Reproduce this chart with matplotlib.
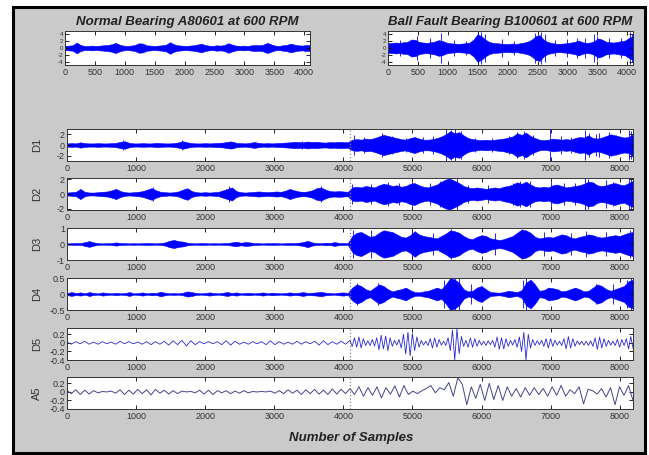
import numpy as np
import matplotlib
matplotlib.use('Agg')
import matplotlib.pyplot as plt
from matplotlib.patches import Rectangle

plt.rcParams['font.family'] = ['Liberation Sans', 'DejaVu Sans']
plt.rcParams['axes.unicode_minus'] = False

# ---- data (envelopes / extrema) ----
# raw signals, 64 bins of 64 samples (0..4096)
normal_env = [0.6, 0.7, 0.8, 1.6, 0.9, 0.6, 0.6, 0.7,
              0.6, 0.7, 0.8, 0.9, 1.1, 1.5, 1.0, 0.7,
              0.6, 0.7, 0.9, 1.4, 1.3, 0.8, 0.7, 0.6,
              0.7, 0.8, 1.0, 1.7, 1.1, 0.8, 0.7, 0.6,
              0.7, 0.8, 1.0, 1.3, 0.9, 0.7, 0.6, 0.8,
              0.7, 0.9, 1.4, 1.0, 0.7, 0.6, 0.7, 0.6,
              0.8, 0.9, 0.8, 1.0, 1.5, 1.1, 0.7, 0.6,
              0.8, 0.9, 1.3, 1.0, 0.8, 0.7, 0.9, 0.8]
fault_env = [1.4, 1.5, 1.6, 1.5, 1.7, 1.8, 2.5, 2.4,
             1.8, 1.6, 1.5, 1.7, 1.9, 2.3, 2.1, 1.6,
             1.4, 1.3, 1.2, 1.3, 1.4, 1.6, 2.5, 4.0,
             3.5, 2.5, 1.8, 1.5, 1.4, 1.3, 1.2, 1.2,
             1.3, 1.2, 1.4, 1.6, 1.9, 2.5, 3.5, 3.8,
             2.5, 1.8, 1.5, 1.3, 1.2, 1.3, 1.4, 1.6,
             1.8, 2.2, 1.7, 1.5, 1.6, 2.0, 2.8, 2.5,
             1.9, 1.7, 1.6, 1.8, 2.0, 2.2, 3.0, 3.5]
fault_spike_pos = [200, 480, 700, 880, 1100, 1300, 1500, 1560, 1620, 1900, 2100, 2460,
                   2560, 2620, 2800, 3000, 3160, 3300, 3450, 3500, 3700, 3900, 4040, 4080]
fault_spike_amp = [2.5, 3.5, 2.8, 4.5, 2.5, 2.2, 4.8, 4.8, 4.2, 2.6, 2.2, 4.5,
                   4.6, 4.0, 2.4, 2.6, 3.0, 2.8, 4.2, 3.6, 2.9, 3.0, 4.7, 4.2]

# details: first 64 bins = normal part, last 64 bins = fault part (64 samples per bin)
d1_norm = [0.3, 0.35, 0.3, 0.5, 0.35, 0.3, 0.3, 0.35,
           0.3, 0.3, 0.35, 0.4, 0.6, 0.7, 0.4, 0.3,
           0.3, 0.35, 0.3, 0.3, 0.4, 0.35, 0.3, 0.3,
           0.35, 0.5, 0.7, 0.5, 0.35, 0.3, 0.3, 0.35,
           0.3, 0.35, 0.4, 0.45, 0.6, 0.65, 0.4, 0.35,
           0.3, 0.4, 0.55, 0.4, 0.3, 0.35, 0.3, 0.35,
           0.4, 0.45, 0.5, 0.6, 0.55, 0.5, 0.65, 0.55,
           0.6, 0.5, 0.45, 0.55, 0.5, 0.6, 0.55, 0.5]
d1_fault = [1.0, 1.1, 1.0, 1.2, 1.1, 1.3, 1.6, 1.9,
            1.7, 1.5, 1.3, 1.1, 1.0, 1.3, 1.5, 1.2,
            1.0, 1.0, 1.1, 1.3, 1.6, 2.0, 2.6, 2.2,
            2.4, 1.8, 1.3, 1.1, 1.0, 0.9, 1.0, 0.9,
            1.0, 1.1, 1.2, 1.4, 1.6, 2.2, 1.9, 2.3,
            1.7, 1.3, 1.0, 0.9, 1.0, 1.2, 1.1, 1.0,
            1.1, 1.0, 1.3, 1.5, 1.4, 1.8, 1.3, 1.2,
            1.4, 1.7, 2.0, 1.8, 1.6, 1.4, 1.5, 2.0]
d1_spike_pos = [810, 1660, 2360, 3400, 4150, 4300, 4560, 4700, 4900, 5150, 5300, 5480,
                5560, 5620, 5700, 5900, 6150, 6400, 6520, 6620, 6750, 6990, 7150, 7300,
                7500, 7560, 7650, 7700, 7850, 7950, 8130, 8170]
d1_spike_amp = [0.9, 0.9, 0.8, 0.8, 1.8, 1.5, 2.3, 1.6, 1.4, 1.5, 1.7, 3.0,
                2.9, 3.0, 2.6, 1.4, 1.3, 1.6, 2.4, 2.6, 1.8, 3.0, 1.6, 1.5,
                2.8, 2.3, 2.0, 2.2, 2.4, 1.9, 2.9, 2.7]

d2_norm = [0.2, 0.25, 0.3, 0.7, 0.3, 0.2, 0.2, 0.25,
           0.3, 0.35, 0.5, 0.7, 0.4, 0.25, 0.2, 0.25,
           0.3, 0.4, 0.6, 0.8, 0.5, 0.3, 0.25, 0.2,
           0.25, 0.35, 0.6, 0.8, 0.4, 0.25, 0.2, 0.25,
           0.2, 0.25, 0.3, 0.5, 0.7, 0.9, 0.4, 0.25,
           0.2, 0.25, 0.3, 0.35, 0.3, 0.25, 0.3, 0.35,
           0.3, 0.45, 0.7, 0.5, 0.35, 0.3, 0.35, 0.5,
           0.8, 0.9, 0.6, 0.4, 0.35, 0.4, 0.35, 0.3]
d2_fault = [0.9, 1.0, 0.9, 1.1, 1.0, 0.9, 1.2, 1.4,
            1.3, 1.1, 1.2, 1.0, 1.1, 1.4, 1.5, 1.2,
            1.0, 0.9, 1.1, 1.3, 1.7, 2.0, 2.1, 1.8,
            1.5, 1.1, 0.9, 0.8, 0.9, 0.8, 0.7, 0.8,
            0.9, 0.8, 1.0, 1.1, 1.3, 1.6, 1.4, 1.7,
            1.3, 1.0, 0.9, 1.0, 0.9, 1.2, 1.3, 1.1,
            0.9, 1.0, 1.1, 1.2, 1.4, 1.7, 1.6, 1.2,
            1.1, 1.2, 1.4, 1.5, 1.3, 1.2, 1.5, 1.8]
d2_spike_pos = [1250, 2350, 3680, 4130, 4400, 4650, 4800, 5000, 5250, 5400, 5520, 5640,
                5800, 6100, 6450, 6560, 6700, 7000, 7200, 7350, 7500, 7540, 7800, 7900,
                8130, 8170]
d2_spike_amp = [0.9, 1.1, 1.1, 1.4, 1.4, 1.6, 1.5, 1.6, 1.5, 1.8, 2.2, 2.2,
                1.3, 1.2, 1.5, 1.8, 1.8, 1.6, 1.5, 1.5, 2.2, 2.0, 1.9, 1.6,
                2.2, 2.1]

d3_norm = [0.04, 0.05, 0.06, 0.05, 0.12, 0.18, 0.1, 0.05,
           0.04, 0.05, 0.06, 0.1, 0.06, 0.05, 0.04, 0.05,
           0.04, 0.05, 0.06, 0.05, 0.04, 0.06, 0.1, 0.2,
           0.25, 0.18, 0.15, 0.08, 0.05, 0.04, 0.06, 0.05,
           0.04, 0.05, 0.04, 0.05, 0.06, 0.1, 0.14, 0.08,
           0.12, 0.1, 0.06, 0.05, 0.04, 0.05, 0.06, 0.05,
           0.04, 0.05, 0.06, 0.05, 0.08, 0.12, 0.2, 0.1,
           0.06, 0.05, 0.08, 0.06, 0.12, 0.07, 0.06, 0.05]
d3_fault = [0.5, 0.7, 0.75, 0.6, 0.45, 0.5, 0.7, 0.85,
            0.8, 0.75, 0.6, 0.45, 0.4, 0.55, 0.8, 0.6,
            0.5, 0.45, 0.4, 0.35, 0.5, 0.65, 0.85, 0.8,
            0.7, 0.5, 0.35, 0.3, 0.45, 0.55, 0.5, 0.35,
            0.3, 0.25, 0.3, 0.4, 0.5, 0.7, 0.9, 0.85,
            0.7, 0.45, 0.35, 0.4, 0.45, 0.4, 0.5, 0.6,
            0.55, 0.4, 0.35, 0.45, 0.5, 0.6, 0.55, 0.45,
            0.4, 0.45, 0.5, 0.55, 0.5, 0.6, 0.7, 0.75]
d3_spike_pos = [4140, 4400, 4600, 5000, 5300, 5560, 6200, 6590, 6900, 7300, 7510, 7800, 8150]
d3_spike_amp = [0.85, 0.9, 0.85, 0.8, 0.7, 0.95, 0.7, 0.95, 0.75, 0.7, 0.8, 0.75, 0.9]

d4_norm = [0.03, 0.06, 0.03, 0.05, 0.02, 0.06, 0.03, 0.02,
           0.05, 0.03, 0.02, 0.04, 0.02, 0.03, 0.06, 0.02,
           0.03, 0.05, 0.02, 0.04, 0.03, 0.07, 0.04, 0.02,
           0.03, 0.02, 0.04, 0.08, 0.06, 0.03, 0.02, 0.03,
           0.05, 0.03, 0.02, 0.04, 0.06, 0.03, 0.05, 0.02,
           0.03, 0.04, 0.02, 0.03, 0.05, 0.02, 0.04, 0.03,
           0.02, 0.03, 0.05, 0.03, 0.04, 0.06, 0.03, 0.04,
           0.05, 0.07, 0.04, 0.03, 0.02, 0.04, 0.05, 0.03]
d4_fault = [0.2, 0.3, 0.25, 0.15, 0.1, 0.2, 0.3, 0.25,
            0.15, 0.08, 0.12, 0.15, 0.2, 0.12, 0.06, 0.05,
            0.08, 0.1, 0.15, 0.2, 0.15, 0.3, 0.5, 0.45,
            0.35, 0.15, 0.08, 0.1, 0.2, 0.25, 0.15, 0.06,
            0.05, 0.04, 0.06, 0.1, 0.08, 0.06, 0.12, 0.35,
            0.45, 0.3, 0.1, 0.12, 0.2, 0.18, 0.15, 0.08,
            0.1, 0.15, 0.2, 0.15, 0.08, 0.1, 0.2, 0.3,
            0.25, 0.15, 0.1, 0.15, 0.2, 0.25, 0.4, 0.45]
d4_spike_pos = [4200, 4500, 5450, 5620, 5680, 5850, 6600, 6650, 7650, 7900, 8110, 8160]
d4_spike_amp = [0.35, 0.35, 0.45, 0.5, 0.5, 0.3, 0.45, 0.5, 0.3, 0.3, 0.45, 0.5]

# D5 and A5: successive extrema of the waveform
d5_norm = [0.02, -0.03, 0.03, -0.02, 0.04, -0.03, 0.02, -0.03,
           0.03, -0.02, 0.02, -0.03, 0.04, -0.02, 0.03, -0.02,
           0.02, -0.03, 0.03, -0.04, 0.03, -0.03, 0.04, -0.05,
           0.05, -0.04, 0.06, -0.07, 0.05, -0.04, 0.03, -0.02,
           0.03, -0.02, 0.03, -0.04, 0.05, -0.05, 0.04, -0.03,
           0.02, -0.03, 0.03, -0.02, 0.03, -0.04, 0.05, -0.04,
           0.03, -0.03, 0.02, -0.03, 0.04, -0.03, 0.03, -0.02,
           0.04, -0.05, 0.05, -0.04, 0.03, -0.03, 0.04, -0.03]
d5_fault = [0.06, -0.08, 0.12, -0.1, 0.14, -0.12, 0.1, -0.06,
            0.05, -0.06, 0.08, -0.07, 0.12, -0.16, 0.18, -0.14,
            0.16, -0.18, 0.12, -0.08, 0.06, -0.05, 0.08, -0.12,
            0.2, -0.26, 0.25, -0.3, 0.22, -0.18, 0.14, -0.1,
            0.06, -0.05, 0.04, -0.06, 0.1, -0.12, 0.12, -0.1,
            0.08, -0.05, 0.04, -0.06, 0.12, -0.18, 0.3, -0.4,
            0.33, -0.25, 0.15, -0.08, 0.06, -0.1, 0.12, -0.1,
            0.1, -0.08, 0.06, -0.05, 0.04, -0.06, 0.05, -0.04,
            0.06, -0.1, 0.14, -0.15, 0.12, -0.14, 0.1, -0.08,
            0.06, -0.05, 0.08, -0.1, 0.14, -0.2, 0.25, -0.4,
            0.2, -0.12, 0.08, -0.06, 0.05, -0.04, 0.06, -0.08,
            0.1, -0.12, 0.1, -0.08, 0.06, -0.05, 0.04, -0.06,
            0.1, -0.14, 0.15, -0.12, 0.1, -0.08, 0.05, -0.04,
            0.04, -0.05, 0.04, -0.06, 0.05, -0.08, 0.12, -0.15,
            0.14, -0.12, 0.1, -0.08, 0.06, -0.05, 0.04, -0.06,
            0.08, -0.1, 0.08, -0.06, 0.1, -0.14, 0.15, -0.12]

a5_norm = [0.03, -0.04, 0.05, -0.06, 0.04, -0.05, 0.03, -0.02,
           0.01, 0.0, 0.02, -0.03, 0.05, -0.06, 0.04, -0.05,
           0.06, -0.04, 0.05, -0.07, 0.06, -0.03, 0.04, -0.05,
           0.03, -0.04, 0.02, 0.0, 0.01, -0.02, 0.04, -0.05,
           0.04, -0.06, 0.03, -0.02, 0.03, -0.04, 0.02, -0.03,
           0.03, -0.02, 0.01, 0.0, 0.01, 0.0, 0.02, -0.03,
           0.03, -0.04, 0.05, -0.03, 0.04, -0.06, 0.05, -0.04,
           0.06, -0.05, 0.04, -0.06, 0.07, -0.05, 0.06, -0.04]
a5_fault = [0.08, -0.06, 0.12, -0.1, 0.1, -0.08, 0.12, -0.14,
            0.1, -0.05, 0.14, -0.12, 0.15, -0.06, 0.02, -0.04,
            0.03, 0.08, 0.15, -0.02, 0.1, 0.05, 0.22, -0.1,
            0.33, 0.18, -0.3, 0.12, -0.15, 0.18, -0.2, 0.2,
            -0.18, 0.15, -0.2, 0.12, -0.1, 0.08, -0.12, 0.1,
            -0.08, 0.1, -0.06, 0.08, -0.1, 0.12, -0.08, 0.15,
            -0.1, 0.05, -0.04, 0.12, -0.28, 0.06, 0.03, -0.05,
            0.08, -0.12, 0.1, -0.3, 0.12, -0.08, 0.15, -0.2]

row_names = ['D1', 'D2', 'D3', 'D4', 'D5', 'A5']

# ---- figure ----
W, H = 649, 455
fig = plt.figure(figsize=(W / 100, H / 100), dpi=100, facecolor='white')
fig.patches.append(Rectangle((13 / W, 1 - 453 / H), (645 - 13) / W, (453 - 7) / H,
                             transform=fig.transFigure, facecolor='#cacaca',
                             edgecolor='black', lw=2.2, zorder=-10))


def axes_px(l, t, r, b):
    return fig.add_axes([l / W, 1 - b / H, (r - l) / W, (b - t) / H])


def style(ax, xmax, xticks, ylim, yticks, ylabels, ysize=6.5):
    ax.set_xlim(0, xmax)
    ax.set_ylim(*ylim)
    ax.set_xticks(xticks)
    ax.set_xticklabels([str(t) for t in xticks])
    ax.set_yticks(yticks)
    ax.set_yticklabels(ylabels, fontsize=ysize)
    ax.tick_params(direction='in', length=3, width=0.6, top=True, right=True,
                   labelsize=6.5, labelcolor='#333333', pad=2)
    ax.tick_params(axis='y', labelsize=ysize, pad=1.5)
    for s in ax.spines.values():
        s.set_linewidth(0.7)
        s.set_color('#333333')


def draw_env(ax, env, xmax, spikes_pos=None, spikes_amp=None, color='#0000ff'):
    x = np.linspace(0, xmax, len(env))
    e = np.array(env)
    ax.fill_between(x, -e, e, color=color, lw=0.4, edgecolor=color)
    if spikes_pos:
        ax.vlines(spikes_pos, -np.array(spikes_amp), np.array(spikes_amp),
                  color=color, lw=0.6)


def halves(norm, fault):
    x = np.concatenate([np.linspace(0, 4096, len(norm), endpoint=False),
                        np.linspace(4096, 8192, len(fault))])
    return x, np.array(norm + fault)


# top panels
top_ticks = [0, 500, 1000, 1500, 2000, 2500, 3000, 3500, 4000]
ax = axes_px(65, 31, 310, 65)
draw_env(ax, normal_env, 4096)
style(ax, 4096, top_ticks, (-5, 5), [-4, -2, 0, 2, 4], ['-4', '-2', '0', '2', '4'], ysize=4.5)
ax.set_title('Normal Bearing A80601 at 600 RPM', fontsize=9.5, fontweight='bold',
             fontstyle='italic', color='#222222', pad=4)

ax = axes_px(388, 31, 633, 65)
draw_env(ax, fault_env, 4096, fault_spike_pos, fault_spike_amp)
style(ax, 4096, top_ticks, (-5, 5), [-4, -2, 0, 2, 4], ['-4', '-2', '0', '2', '4'], ysize=4.5)
ax.set_title('Ball Fault Bearing B100601 at 600 RPM', fontsize=9.5, fontweight='bold',
             fontstyle='italic', color='#222222', pad=4)

# decomposition rows
low_ticks = [0, 1000, 2000, 3000, 4000, 5000, 6000, 7000, 8000]
tops = [129, 178, 228, 278, 328, 377]
env_rows = [(d1_norm + d1_fault, d1_spike_pos, d1_spike_amp, (-3, 3), [-2, 0, 2], ['-2', '0', '2']),
            (d2_norm + d2_fault, d2_spike_pos, d2_spike_amp, (-2.2, 2.2), [-2, 0, 2], ['-2', '0', '2']),
            (d3_norm + d3_fault, d3_spike_pos, d3_spike_amp, (-1, 1), [-1, 0, 1], ['-1', '0', '1']),
            (d4_norm + d4_fault, d4_spike_pos, d4_spike_amp, (-0.5, 0.5), [-0.5, 0, 0.5], ['-0.5', '0', '0.5'])]
small_ticks = [-0.4, -0.2, 0, 0.2]
small_labels = ['-0.4', '-0.2', '0', '0.2']

for i, name in enumerate(row_names):
    ax = axes_px(67, tops[i], 633, tops[i] + 32)
    if i < 4:
        env, sp, sa, ylim, yt, yl = env_rows[i]
        draw_env(ax, env, 8192, sp, sa)
        style(ax, 8192, low_ticks, ylim, yt, yl)
    else:
        if name == 'D5':
            x, y = halves(d5_norm, d5_fault)
            ax.plot(x, y, color='#2a2ad0', lw=0.6)
        else:
            x, y = halves(a5_norm, a5_fault)
            ax.plot(x, y, color='#44448c', lw=0.7)
        style(ax, 8192, low_ticks, (-0.4, 0.35), small_ticks, small_labels)
    ax.axvline(4096, color='#888888', ls=':', lw=0.9)
    fig.text(37 / W, 1 - (tops[i] + 16) / H, name, rotation=90, ha='center', va='center',
             fontsize=8, color='#333333')

fig.text(351 / W, 1 - 438 / H, 'Number of Samples', ha='center', va='center',
         fontsize=9.5, fontweight='bold', fontstyle='italic', color='#222222')

fig.savefig('out.png', dpi=100, facecolor='white')
